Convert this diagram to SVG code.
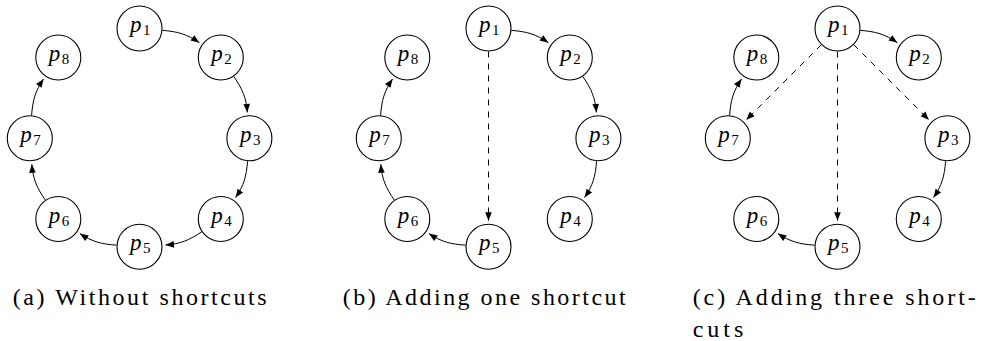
<svg xmlns="http://www.w3.org/2000/svg" width="984" height="341" viewBox="0 0 984 341">
  <style>
    text { font-family: "Liberation Serif", "Times New Roman", serif; fill: #000; }
    .node circle { fill: #fff; stroke: #000; stroke-width: 1.1; }
    .lbl { font-style: italic; font-size: 23px; }
    .sub { font-style: normal; font-size: 15px; }
    .edge { fill: none; stroke: #000; stroke-width: 1; marker-end: url(#tip); }
    .short { stroke-dasharray: 6 6; }
    .cap { font-size: 24px; }
  </style>
  <defs>
    <marker id="tip" viewBox="-10 -5 11 10" refX="0" refY="0" markerWidth="11" markerHeight="10" markerUnits="userSpaceOnUse" orient="auto">
      <path d="M0,0 L-8.5,-3.3 L-8.5,3.3 Z" fill="#000"/>
    </marker>
    <!-- ring arcs between neighbouring processes -->
    <path id="e12" d="M162.42,30.36 C177.64,31.59 186.85,34.04 199.41,42.72"/>
    <path id="e23" d="M233.82,76.46 C242.33,88.85 246.18,97.4 247.36,112.38"/>
    <path id="e34" d="M247.59,161.23 C246.41,176.17 244.02,185.22 235.53,197.57"/>
    <path id="e45" d="M201.69,231.8 C189.15,240.2 180.51,243.96 165.44,244.97"/>
    <path id="e56" d="M116.55,245.16 C101.52,244.15 92.41,241.85 79.9,233.47"/>
    <path id="e67" d="M45.29,200.03 C36.82,187.68 32.98,179.16 31.82,164.22"/>
    <path id="e78" d="M31.58,115.37 C32.74,100.39 35.11,91.33 43.6,78.94"/>
  </defs>

  <!-- (a) ring without shortcuts -->
  <g id="panel-a">
    <g id="a-connectors">
      <use href="#e12" class="edge"/>
      <use href="#e23" class="edge"/>
      <use href="#e34" class="edge"/>
      <use href="#e45" class="edge"/>
      <use href="#e56" class="edge"/>
      <use href="#e67" class="edge"/>
      <use href="#e78" class="edge"/>
    </g>
    <g id="a-p1" class="node"><circle cx="139.5" cy="28.5" r="22.5"/><text class="lbl" x="130" y="32">p<tspan class="sub" x="143" y="35">1</tspan></text></g>
    <g id="a-p2" class="node"><circle cx="220.8" cy="57.5" r="22.5"/><text class="lbl" x="211.3" y="61">p<tspan class="sub" x="224.3" y="64">2</tspan></text></g>
    <g id="a-p3" class="node"><circle cx="249.4" cy="138.3" r="22.5"/><text class="lbl" x="239.9" y="141.8">p<tspan class="sub" x="252.9" y="144.8">3</tspan></text></g>
    <g id="a-p4" class="node"><circle cx="220.8" cy="219" r="22.5"/><text class="lbl" x="211.3" y="222.5">p<tspan class="sub" x="224.3" y="225.5">4</tspan></text></g>
    <g id="a-p5" class="node"><circle cx="139.5" cy="246.7" r="22.5"/><text class="lbl" x="130" y="250.2">p<tspan class="sub" x="143" y="253.2">5</tspan></text></g>
    <g id="a-p6" class="node"><circle cx="58.3" cy="219" r="22.5"/><text class="lbl" x="48.8" y="222.5">p<tspan class="sub" x="61.8" y="225.5">6</tspan></text></g>
    <g id="a-p7" class="node"><circle cx="29.8" cy="138.3" r="22.5"/><text class="lbl" x="20.3" y="141.8">p<tspan class="sub" x="33.3" y="144.8">7</tspan></text></g>
    <g id="a-p8" class="node"><circle cx="58.3" cy="57.5" r="22.5"/><text class="lbl" x="48.8" y="61">p<tspan class="sub" x="61.8" y="64">8</tspan></text></g>
    <text class="cap" x="12.7" y="305" textLength="254" lengthAdjust="spacing">(a) Without shortcuts</text>
  </g>

  <!-- (b) one shortcut p1 -> p5 replaces p4 -> p5 -->
  <g id="panel-b" transform="translate(349,0)">
    <g id="b-connectors">
      <use href="#e12" class="edge"/>
      <use href="#e23" class="edge"/>
      <use href="#e34" class="edge"/>
      <use href="#e56" class="edge"/>
      <use href="#e67" class="edge"/>
      <use href="#e78" class="edge"/>
      <path class="edge short" d="M139.5,51.5 L139.5,220.7"/>
    </g>
    <g id="b-p1" class="node"><circle cx="139.5" cy="28.5" r="22.5"/><text class="lbl" x="130" y="32">p<tspan class="sub" x="143" y="35">1</tspan></text></g>
    <g id="b-p2" class="node"><circle cx="220.8" cy="57.5" r="22.5"/><text class="lbl" x="211.3" y="61">p<tspan class="sub" x="224.3" y="64">2</tspan></text></g>
    <g id="b-p3" class="node"><circle cx="249.4" cy="138.3" r="22.5"/><text class="lbl" x="239.9" y="141.8">p<tspan class="sub" x="252.9" y="144.8">3</tspan></text></g>
    <g id="b-p4" class="node"><circle cx="220.8" cy="219" r="22.5"/><text class="lbl" x="211.3" y="222.5">p<tspan class="sub" x="224.3" y="225.5">4</tspan></text></g>
    <g id="b-p5" class="node"><circle cx="139.5" cy="246.7" r="22.5"/><text class="lbl" x="130" y="250.2">p<tspan class="sub" x="143" y="253.2">5</tspan></text></g>
    <g id="b-p6" class="node"><circle cx="58.3" cy="219" r="22.5"/><text class="lbl" x="48.8" y="222.5">p<tspan class="sub" x="61.8" y="225.5">6</tspan></text></g>
    <g id="b-p7" class="node"><circle cx="29.8" cy="138.3" r="22.5"/><text class="lbl" x="20.3" y="141.8">p<tspan class="sub" x="33.3" y="144.8">7</tspan></text></g>
    <g id="b-p8" class="node"><circle cx="58.3" cy="57.5" r="22.5"/><text class="lbl" x="48.8" y="61">p<tspan class="sub" x="61.8" y="64">8</tspan></text></g>
    <text class="cap" x="-6.3" y="305" textLength="283" lengthAdjust="spacing">(b) Adding one shortcut</text>
  </g>

  <!-- (c) three shortcuts p1 -> p3, p5, p7 -->
  <g id="panel-c" transform="translate(698,0)">
    <g id="c-connectors">
      <use href="#e12" class="edge"/>
      <use href="#e34" class="edge"/>
      <use href="#e56" class="edge"/>
      <use href="#e78" class="edge"/>
      <path class="edge short" d="M123.24,44.76 L48.18,119.92"/>
      <path class="edge short" d="M139.5,51.5 L139.5,220.7"/>
      <path class="edge short" d="M155.76,44.76 L231.02,119.92"/>
    </g>
    <g id="c-p1" class="node"><circle cx="139.5" cy="28.5" r="22.5"/><text class="lbl" x="130" y="32">p<tspan class="sub" x="143" y="35">1</tspan></text></g>
    <g id="c-p2" class="node"><circle cx="220.8" cy="57.5" r="22.5"/><text class="lbl" x="211.3" y="61">p<tspan class="sub" x="224.3" y="64">2</tspan></text></g>
    <g id="c-p3" class="node"><circle cx="249.4" cy="138.3" r="22.5"/><text class="lbl" x="239.9" y="141.8">p<tspan class="sub" x="252.9" y="144.8">3</tspan></text></g>
    <g id="c-p4" class="node"><circle cx="220.8" cy="219" r="22.5"/><text class="lbl" x="211.3" y="222.5">p<tspan class="sub" x="224.3" y="225.5">4</tspan></text></g>
    <g id="c-p5" class="node"><circle cx="139.5" cy="246.7" r="22.5"/><text class="lbl" x="130" y="250.2">p<tspan class="sub" x="143" y="253.2">5</tspan></text></g>
    <g id="c-p6" class="node"><circle cx="58.3" cy="219" r="22.5"/><text class="lbl" x="48.8" y="222.5">p<tspan class="sub" x="61.8" y="225.5">6</tspan></text></g>
    <g id="c-p7" class="node"><circle cx="29.8" cy="138.3" r="22.5"/><text class="lbl" x="20.3" y="141.8">p<tspan class="sub" x="33.3" y="144.8">7</tspan></text></g>
    <g id="c-p8" class="node"><circle cx="58.3" cy="57.5" r="22.5"/><text class="lbl" x="48.8" y="61">p<tspan class="sub" x="61.8" y="64">8</tspan></text></g>
    <text class="cap" x="-5.3" y="305" textLength="283" lengthAdjust="spacing">(c) Adding three short-</text>
    <text class="cap" x="-5.3" y="336.5" textLength="50.6" lengthAdjust="spacing">cuts</text>
  </g>
</svg>
